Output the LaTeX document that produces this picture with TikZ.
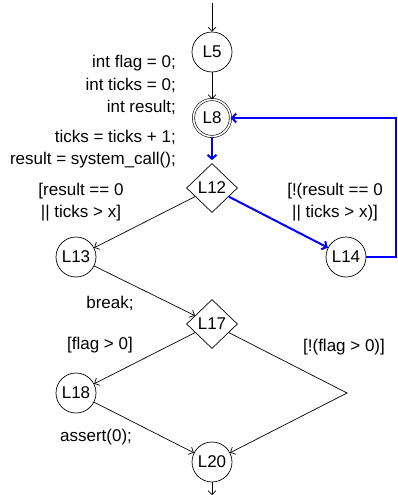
\documentclass[tikz,border=0pt]{standalone}
\usepackage{fontspec}
\setmainfont{Liberation Sans}
\usetikzlibrary{shapes.geometric,arrows.meta}
\begin{document}
\begin{tikzpicture}[x=1pt,y=-1pt,
  font=\fontsize{17}{22.5}\selectfont,
  loc/.style={draw,circle,minimum size=40pt,inner sep=0pt,line width=0.7pt},
  dloc/.style={draw,circle,minimum size=37pt,inner sep=0pt,double,double distance=1.6pt,line width=0.6pt},
  dec/.style={draw,diamond,minimum width=51pt,minimum height=49pt,inner sep=0pt,line width=0.7pt},
  lab/.style={inner sep=0pt},
  edge/.style={line width=0.7pt,-{Straight Barb[length=4pt,width=8pt]}},
  bedge/.style={blue,line width=2pt,-{Straight Barb[length=4pt,width=9pt]}}]
\useasboundingbox (0,0) rectangle (397,495);
\node[loc]  (L5)  at (212,52)  {L5};
\node[dloc] (L8)  at (212,118) {L8};
\node[dec]  (L12) at (212,188) {L12};
\node[loc]  (L13) at (76,257)  {L13};
\node[loc]  (L14) at (346,257) {L14};
\node[dec]  (L17) at (212,324) {L17};
\node[loc]  (L18) at (76,393)  {L18};
\node[loc]  (L20) at (212,462) {L20};
\coordinate (top) at (212,3);
\coordinate (bot) at (212,495);
\coordinate (j) at (347,393);
\coordinate (c1) at (396,257);

\draw[edge] (top) -- (L5);
\draw[edge] (L5) -- (L8);
\draw[bedge,shorten >=3pt] (L8) -- (L12);
\draw[edge] (L12) -- (L13);
\draw[bedge] (L12) -- (L14);
\draw[bedge] (L14) -- (c1) |- (L8);
\draw[edge] (L13) -- (L17);
\draw[edge] (L17) -- (L18);
\draw[edge] (L17) -- (j) -- (L20);
\draw[edge] (L18) -- (L20);
\draw[edge] (L20) -- (bot);

\node[lab,anchor=east,align=right] (t1) at (176,85) {int flag = 0;\\int ticks = 0;\\int result;};
\node[lab,anchor=east,align=right] (t2) at (176,149) {ticks = ticks + 1;\\result = system\_call();};
\node[lab,align=center] (t3) at (81,202) {[result == 0\\|| ticks > x]};
\node[lab,align=center] (t4) at (335,202) {[!(result == 0\\|| ticks > x)]};
\node[lab] (t5) at (110,303) {break;};
\node[lab] (t6) at (100,345) {[flag > 0]};
\node[lab] (t7) at (344,347) {[!(flag > 0)]};
\node[lab] (t8) at (96,437) {assert(0);};
\end{tikzpicture}
\end{document}
